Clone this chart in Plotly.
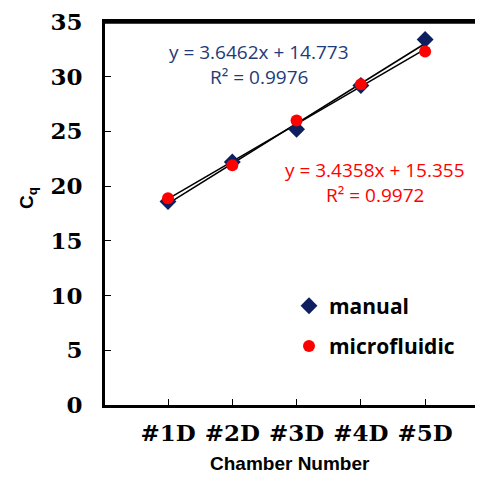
import numpy as np
import plotly.graph_objects as go

categories = ["#1D", "#2D", "#3D", "#4D", "#5D"]
positions = [1, 2, 3, 4, 5]
manual = [18.6, 22.2, 25.2, 29.2, 33.4]
microfluidic = [18.9, 21.9, 26.0, 29.3, 32.3]
y_ticks = [0, 5, 10, 15, 20, 25, 30, 35]

eq_manual = ["y = 3.6462x + 14.773", "R² = 0.9976"]
eq_micro = ["y = 3.4358x + 15.355", "R² = 0.9972"]

NAVY = "#0D1F5E"
NAVY_TXT = "#1F3A78"
RED = "#FF0000"

fig = go.Figure()

x = np.array(positions, dtype=float)
for vals in (manual, microfluidic):
    k, b = np.polyfit(x, np.array(vals), 1)
    xs = np.array([x[0], x[-1]])
    fig.add_trace(go.Scatter(x=xs, y=k * xs + b, mode="lines",
                             line=dict(color="black", width=1.6),
                             showlegend=False, hoverinfo="skip"))

fig.add_trace(go.Scatter(x=positions, y=manual, mode="markers", name="manual",
                         legendgroup="a",
                         marker=dict(symbol="diamond", size=13, color=NAVY)))
fig.add_trace(go.Scatter(x=positions, y=microfluidic, mode="markers", name="microfluidic",
                         legendgroup="b",
                         marker=dict(symbol="circle", size=12, color=RED)))

# page body has an 8px margin; design in reference pixel coordinates
OFF = 8
W, H = 483 - OFF, 477 - OFF
L, R, T, B = 105 - OFF, 0, 20 - OFF, 72
pw, ph = W - L - R, H - T - B

def px(xp):
    return (xp - OFF - L) / pw

def py(yp):
    return (H - B - (yp - OFF)) / ph

ann_font = dict(family="Open Sans, Noto Sans, sans-serif", size=19)
annotations = [
    dict(x=px(259), y=py(50), text=eq_manual[0], font=dict(color=NAVY_TXT, **ann_font)),
    dict(x=px(259), y=py(75), text=eq_manual[1], font=dict(color=NAVY_TXT, **ann_font)),
    dict(x=px(375), y=py(169), text=eq_micro[0], font=dict(color=RED, **ann_font)),
    dict(x=px(375), y=py(194), text=eq_micro[1], font=dict(color=RED, **ann_font)),
    dict(x=px(290), y=py(464), text="Chamber Number",
         font=dict(family="Liberation Sans Narrow, Liberation Sans, Arial", size=19,
                   color="black", weight="bold")),
    dict(x=px(28), y=py(197), text="C<sub>q</sub>", textangle=-90,
         font=dict(family="Liberation Sans, Arial", size=19, color="black", weight="bold")),
]
for a in annotations:
    a.update(xref="paper", yref="paper", showarrow=False, xanchor="center", yanchor="middle")

fig.update_layout(
    width=W, height=H,
    margin=dict(l=L, r=R, t=T, b=B, pad=0),
    paper_bgcolor="white", plot_bgcolor="white",
    showlegend=True,
    legend=dict(x=px(289), y=py(285), xanchor="left", yanchor="top",
                font=dict(family="Open Sans, Noto Sans, sans-serif", size=21,
                          color="black", weight="bold"),
                bgcolor="rgba(0,0,0,0)", tracegroupgap=10, itemwidth=30),
    annotations=annotations,
    shapes=[dict(type="line", xref="paper", yref="paper", x0=0, x1=1, y0=1, y1=1,
                 layer="above", line=dict(color="black", width=3.5))],
)

tick_font = dict(family="DejaVu Serif, serif", size=23, color="black", weight="bold")
fig.update_xaxes(range=[0.02, 5.9], tickvals=positions, ticktext=categories,
                 showgrid=False, zeroline=False, showline=True, linecolor="black",
                 linewidth=3, mirror=True, ticks="inside", ticklen=6, tickwidth=1,
                 tickcolor="black", tickfont=tick_font, ticklabelstandoff=5)
fig.update_yaxes(range=[0, 35], tickvals=y_ticks,
                 showgrid=False, zeroline=False, showline=True, linecolor="black",
                 linewidth=3, ticks="inside", ticklen=6, tickwidth=1, tickcolor="black",
                 tickfont=tick_font, ticklabelstandoff=15, ticklabeloverflow="allow")

fig.write_html("out.html", config=dict(displayModeBar=False))
